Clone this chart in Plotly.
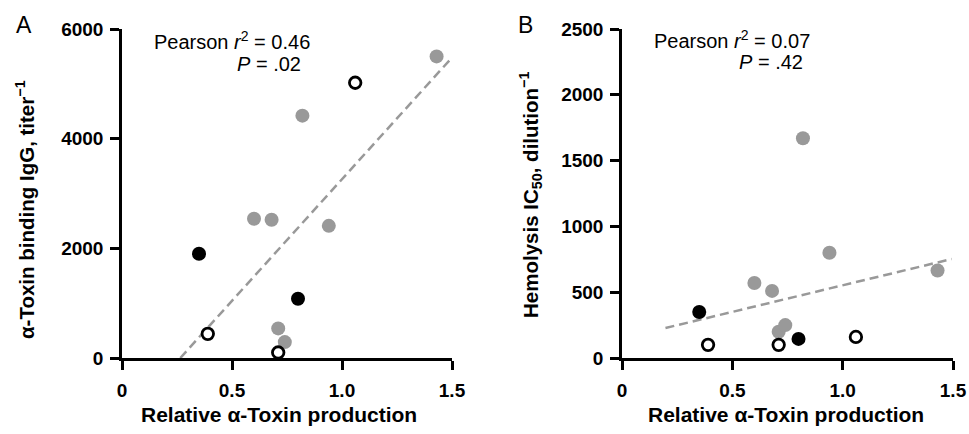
import plotly.graph_objects as go

W, H = 969, 434

# ---- data ----
gray_x = [0.60, 0.68, 0.71, 0.74, 0.82, 0.94, 1.43]
gray_igg = [2540, 2520, 540, 290, 4420, 2410, 5500]
gray_hemo = [570, 510, 200, 250, 1670, 800, 665]

black_x = [0.35, 0.80]
black_igg = [1900, 1080]
black_hemo = [350, 145]

open_x = [0.39, 0.71, 1.06]
open_igg = [440, 100, 5020]
open_hemo = [100, 100, 160]

fitA_x = [0.265, 1.49]
fitA_y = [0, 5435]
fitB_x = [0.197, 1.494]
fitB_y = [228, 752]

x_ticks = [0, 0.5, 1.0, 1.5]
x_ticklabels = ["0", "0.5", "1.0", "1.5"]
yA_ticks = [0, 2000, 4000, 6000]
yB_ticks = [0, 500, 1000, 1500, 2000, 2500]

FONT = "Liberation Sans, Arial, sans-serif"
GRAY = "#999999"


def px(x):
    return x / W


def py(y):
    return 1 - y / H


fig = go.Figure()

for xa, ya, gy, by, oy, fx, fy in [
    ("x", "y", gray_igg, black_igg, open_igg, fitA_x, fitA_y),
    ("x2", "y2", gray_hemo, black_hemo, open_hemo, fitB_x, fitB_y),
]:
    fig.add_trace(go.Scatter(x=fx, y=fy, mode="lines", xaxis=xa, yaxis=ya,
                             line=dict(color=GRAY, width=2.5, dash="9px,5px"),
                             showlegend=False, hoverinfo="skip"))
    fig.add_trace(go.Scatter(x=gray_x, y=gy, mode="markers", xaxis=xa, yaxis=ya,
                             marker=dict(size=14, color=GRAY, line=dict(width=0)),
                             cliponaxis=False, showlegend=False))
    fig.add_trace(go.Scatter(x=black_x, y=by, mode="markers", xaxis=xa, yaxis=ya,
                             marker=dict(size=14, color="black", line=dict(width=0)),
                             cliponaxis=False, showlegend=False))
    fig.add_trace(go.Scatter(x=open_x, y=oy, mode="markers", xaxis=xa, yaxis=ya,
                             marker=dict(size=11.5, color="white",
                                         line=dict(width=2.8, color="black")),
                             cliponaxis=False, showlegend=False))

axis_common = dict(showline=True, linewidth=2.5, linecolor="black",
                   ticks="outside", tickwidth=2.5, tickcolor="black", ticklen=9,
                   showgrid=False, zeroline=False, automargin=False,
                   tickfont=dict(family=FONT, size=19, color="black", weight="bold"))

fig.update_layout(
    width=W, height=H,
    margin=dict(l=0, r=0, t=0, b=0, pad=0, autoexpand=False),
    paper_bgcolor="white", plot_bgcolor="white",
    showlegend=False,
    xaxis=dict(domain=[px(122), px(452)], range=[0, 1.5], tickvals=x_ticks,
               ticktext=x_ticklabels, anchor="y", ticklabelstandoff=4, **axis_common),
    yaxis=dict(domain=[py(358), py(29)], range=[0, 6000], tickvals=yA_ticks,
               anchor="x", ticklabelstandoff=3, **axis_common),
    xaxis2=dict(domain=[px(622), px(953)], range=[0, 1.5], tickvals=x_ticks,
                ticktext=x_ticklabels, anchor="y2", ticklabelstandoff=4, **axis_common),
    yaxis2=dict(domain=[py(358), py(29)], range=[0, 2500], tickvals=yB_ticks,
                anchor="x2", ticklabelstandoff=3, **axis_common),
)


def ann(text, x, y, size, xanchor="center", angle=0):
    fig.add_annotation(text=text, x=px(x), y=py(y), xref="paper", yref="paper",
                       showarrow=False, xanchor=xanchor, yanchor="middle",
                       textangle=angle,
                       font=dict(family=FONT, size=size, color="black"))


# panel letters
ann("A", 24, 25, 23)
ann("B", 525, 25, 23)

# statistics
ann("Pearson <i>r</i><sup>2</sup> = 0.46", 152, 40, 20, "left")
ann("<i>P</i> = .02", 235, 64, 20, "left")
ann("Pearson <i>r</i><sup>2</sup> = 0.07", 652, 39, 20, "left")
ann("<i>P</i> = .42", 737, 62, 20, "left")

# axis titles
ann("<b>Relative α-Toxin production</b>", 279, 414, 21)
ann("<b>Relative α-Toxin production</b>", 786, 414, 21)
ann("<b>α-Toxin binding IgG, titer<sup>−1</sup></b>", 25, 210, 20.5, angle=-90)
ann("<b>Hemolysis IC<sub>50</sub>, dilution<sup>−1</sup></b>", 530, 195, 20.5, angle=-90)

fig.write_html("out.html")
